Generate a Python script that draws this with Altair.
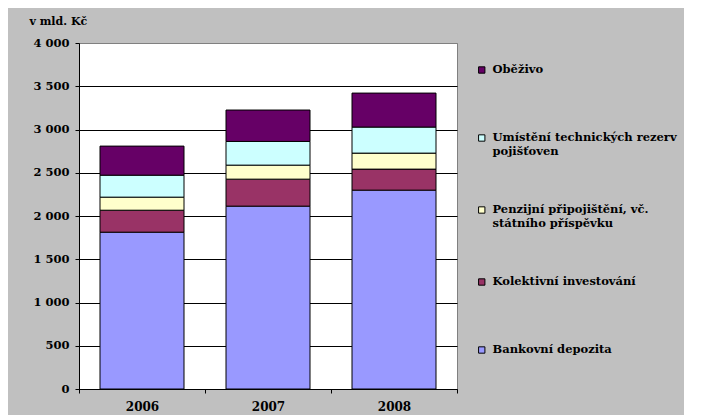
import altair as alt
import pandas as pd

years = ["2006", "2007", "2008"]
series = [
    "Bankovní depozita",
    "Kolektivní investování",
    "Penzijní připojištění, vč.|státního příspěvku",
    "Umístění technických rezerv|pojišťoven",
    "Oběživo",
]
bankovni_depozita = [1813, 2114, 2299]
kolektivni_investovani = [254, 312, 243]
penzijni_pripojisteni = [151, 162, 185]
technicke_rezervy = [254, 274, 301]
obezivo = [336, 363, 393]
colors = ["#9999FF", "#993366", "#FFFFCC", "#CCFFFF", "#660066"]

values = [bankovni_depozita, kolektivni_investovani, penzijni_pripojisteni,
          technicke_rezervy, obezivo]
rows = []
for i, (s, vals) in enumerate(zip(series, values)):
    for y, v in zip(years, vals):
        rows.append({"rok": y, "slozka": s, "hodnota": v, "poradi": i})
df = pd.DataFrame(rows)

FONT = "DejaVu Serif"

chart = alt.Chart(df).mark_bar(
    width=alt.RelativeBandSize(2 / 3), stroke="black", strokeWidth=1
).encode(
    x=alt.X(
        "rok:N",
        scale=alt.Scale(paddingInner=0, paddingOuter=0),
        axis=alt.Axis(
            title=None, labelAngle=0, tickBand="extent", grid=False,
            domainColor="black", tickColor="black", tickSize=4,
            labelPadding=8, labelFontSize=12, labelFontWeight="bold",
            labelColor="black", labelFont=FONT,
        ),
    ),
    y=alt.Y(
        "hodnota:Q",
        stack="zero",
        scale=alt.Scale(domain=[0, 4000], nice=False),
        axis=alt.Axis(
            title="v mld. Kč", titleAngle=0, titleX=-50, titleY=-19,
            titleAlign="left", titleBaseline="alphabetic",
            titleFont=FONT, titleFontSize=11, titleFontWeight="bold",
            titleColor="black",
            values=list(range(0, 4001, 500)),
            labelExpr="replace(format(datum.value, ','), ',', ' ')",
            labelFont=FONT, labelFontSize=11.5, labelFontWeight="bold",
            labelColor="black", labelPadding=6,
            tickSize=4, tickColor="black", domainColor="black",
            grid=True,
            gridColor={"condition": {"test": "datum.value >= 4000", "value": "#808080"},
                       "value": "black"},
            gridOpacity=1, gridWidth=1,
        ),
    ),
    color=alt.Color(
        "slozka:N",
        scale=alt.Scale(domain=series[::-1], range=colors[::-1]),
        legend=alt.Legend(
            title=None, orient="none", legendX=397, legendY=12,
            direction="vertical", symbolType="square", symbolSize=40,
            symbolStrokeColor="black", symbolStrokeWidth=1, symbolOpacity=1,
            labelFont=FONT, labelFontSize=11.5, labelFontWeight="bold",
            labelColor="black", labelLimit=300, labelOffset=5,
            labelExpr="split(datum.label, '|')",
            clipHeight=30, rowPadding=38, padding=0,
        ),
    ),
    order=alt.Order("poradi:Q", sort="ascending"),
).properties(
    width=378, height=346,
    autosize=alt.AutoSizeParams(type="none"),
    padding={"left": 71, "top": 35, "right": 227, "bottom": 26},
    background="#C0C0C0",
).configure_view(
    stroke="#808080", strokeWidth=1, fill="white"
)

chart.save("out.html", embed_options={"renderer": "svg", "actions": False})
